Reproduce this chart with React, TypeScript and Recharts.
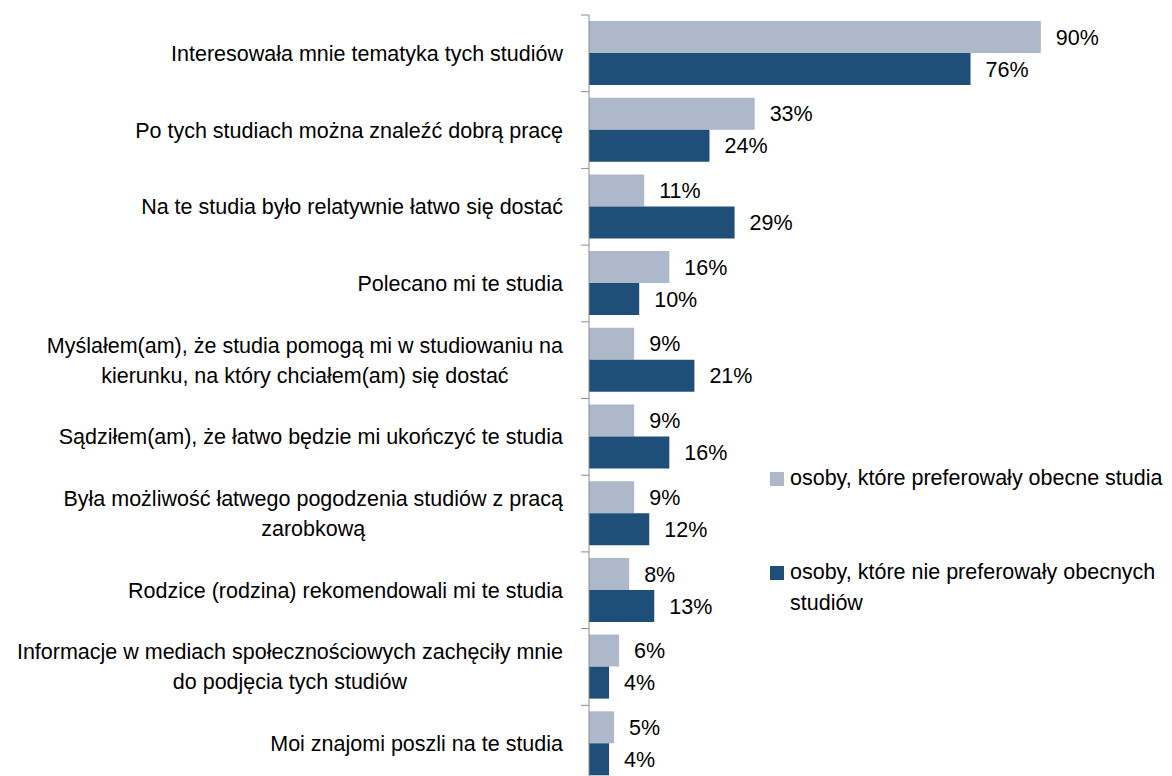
import React from "react";
import { BarChart, Bar, XAxis, YAxis, LabelList } from "recharts";

// Reasons for choosing the current studies, split by whether it was the preferred choice
const categories = [
  "Interesowała mnie tematyka tych studiów",
  "Po tych studiach można znaleźć dobrą pracę",
  "Na te studia było relatywnie łatwo się dostać",
  "Polecano mi te studia",
  "Myślałem(am), że studia pomogą mi w studiowaniu na\nkierunku, na który chciałem(am) się dostać",
  "Sądziłem(am), że łatwo będzie mi ukończyć te studia",
  "Była możliwość łatwego pogodzenia studiów z pracą\nzarobkową",
  "Rodzice (rodzina) rekomendowali mi te studia",
  "Informacje w mediach społecznościowych zachęciły mnie\ndo podjęcia tych studiów",
  "Moi znajomi poszli na te studia",
];
const preferred = [90, 33, 11, 16, 9, 9, 9, 8, 6, 5];
const notPreferred = [76, 24, 29, 10, 21, 16, 12, 13, 4, 4];
const seriesNames = [
  "osoby, które preferowały obecne studia",
  "osoby, które nie preferowały obecnych studiów",
];

const FONT = '"Liberation Sans", Arial, sans-serif';
const FONT_SIZE = 21.5;
const LINE_H = 30;
const LIGHT = "#ADB9CA";
const DARK = "#1F4E79";
const AXIS = "#8c8c8c";

const W = 1172;
const H = 785;
const MARGIN = { top: 15, right: 81, bottom: 3, left: 0 };
const TICK_GAP = 26;
const TICK_LEN = 8;
const BAND = (H - MARGIN.top - MARGIN.bottom) / categories.length;

const data = categories.map((name, i) => ({
  name,
  preferred: preferred[i],
  notPreferred: notPreferred[i],
}));

let ctx: CanvasRenderingContext2D | null = null;
function measure(text: string) {
  if (!ctx) ctx = document.createElement("canvas").getContext("2d");
  if (!ctx) return text.length * FONT_SIZE * 0.5;
  ctx.font = `${FONT_SIZE}px ${FONT}`;
  return ctx.measureText(text).width;
}

function CategoryTick(props: any) {
  const { x, y, payload } = props;
  const lines = String(payload.value).split("\n");
  const style = { fontFamily: FONT, fontSize: FONT_SIZE, fill: "#000" };
  const axisX = x + TICK_GAP;
  // tick mark sits on the boundary above each category, like Excel
  const mark = (
    <line
      x1={axisX - TICK_LEN}
      x2={axisX}
      y1={y - BAND / 2}
      y2={y - BAND / 2}
      stroke={AXIS}
    />
  );
  if (lines.length === 1) {
    return (
      <g>
        {mark}
        <text x={x} y={y} dy="0.35em" textAnchor="end" style={style}>
          {lines[0]}
        </text>
      </g>
    );
  }
  // block is right-aligned, lines are centred inside it
  const maxW = Math.max(...lines.map(measure));
  const cx = x - maxW / 2;
  const y0 = y - ((lines.length - 1) * LINE_H) / 2;
  return (
    <g>
      {mark}
      <text textAnchor="middle" style={style}>
        {lines.map((l, i) => (
          <tspan key={i} x={cx} y={y0 + i * LINE_H} dy="0.35em">
            {l}
          </tspan>
        ))}
      </text>
    </g>
  );
}

const pct = (v: any) => `${v}%`;
const labelStyle = { fontFamily: FONT, fontSize: FONT_SIZE, fill: "#000" };

export default function App() {
  return (
    <div
      style={{
        position: "fixed",
        top: 0,
        left: 0,
        width: 1172,
        height: 776,
        overflow: "hidden",
        background: "#fff",
        fontFamily: FONT,
      }}
    >
      <BarChart
        width={W}
        height={H}
        data={data}
        layout="vertical"
        margin={MARGIN}
        barSize={32}
        barGap={0}
      >
        <XAxis type="number" domain={[0, 100]} hide />
        <YAxis
          type="category"
          dataKey="name"
          width={589}
          interval={0}
          tickLine={false}
          axisLine={{ stroke: AXIS }}
          tickSize={0}
          tickMargin={TICK_GAP}
          tick={<CategoryTick />}
        />
        <Bar
          dataKey="preferred"
          name={seriesNames[0]}
          fill={LIGHT}
          isAnimationActive={false}
        >
          <LabelList
            dataKey="preferred"
            position="right"
            offset={15}
            formatter={pct}
            style={labelStyle}
          />
        </Bar>
        <Bar
          dataKey="notPreferred"
          name={seriesNames[1]}
          fill={DARK}
          isAnimationActive={false}
        >
          <LabelList
            dataKey="notPreferred"
            position="right"
            offset={15}
            formatter={pct}
            style={labelStyle}
          />
        </Bar>
      </BarChart>

      {/* legend, placed to the right of the short bars */}
      {seriesNames.map((n, i) => (
        <div
          key={n}
          style={{
            position: "absolute",
            left: 770,
            top: i === 0 ? 463 : 557,
            width: 400,
            display: "flex",
            alignItems: "flex-start",
            fontSize: FONT_SIZE,
            lineHeight: `${LINE_H + 1}px`,
            color: "#000",
          }}
        >
          <span
            style={{
              flex: "0 0 14px",
              height: 14,
              marginTop: 8.5,
              marginRight: 6,
              background: i === 0 ? LIGHT : DARK,
            }}
          />
          <span>{n}</span>
        </div>
      ))}
    </div>
  );
}
